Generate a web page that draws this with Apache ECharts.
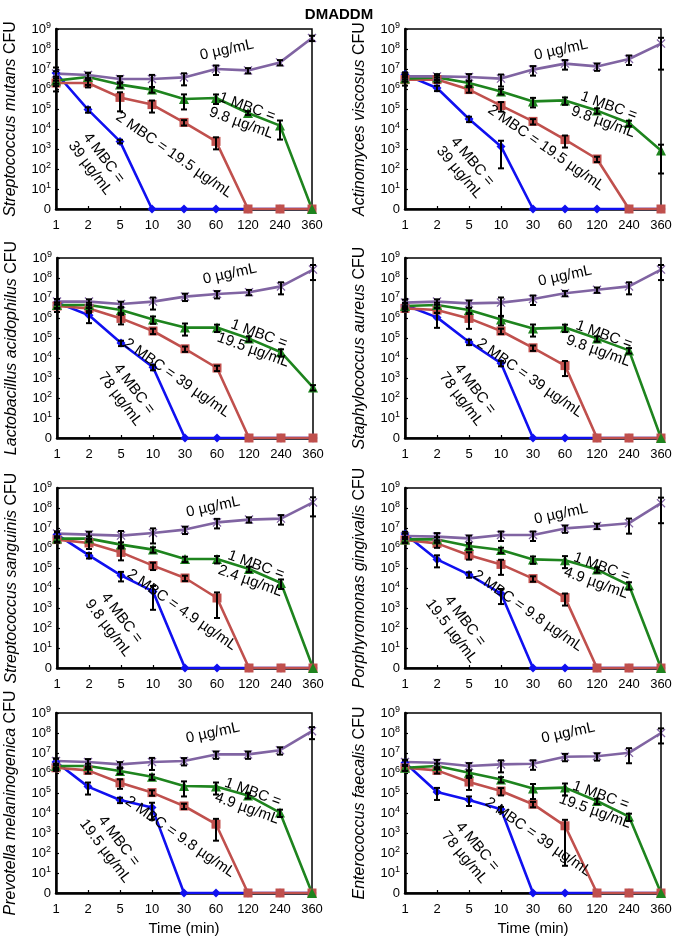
<!DOCTYPE html>
<html>
<head>
<meta charset="utf-8">
<script src="https://cdn.jsdelivr.net/npm/echarts@6/dist/echarts.min.js"></script>
<style>
  html, body { margin: 0; padding: 0; background: #fff; }
  #chart { width: 678px; height: 945px; }
</style>
</head>
<body>
<div id="chart"></div>
<script>
// time points (min), shown as evenly spaced categories
const times = ['1', '2', '5', '10', '30', '60', '120', '240', '360'];

// log10 CFU (0 = no survivors); order: 0, 1, 2, 4 MBC
const sm0 = [6.77, 6.7, 6.5, 6.5, 6.58, 7.0, 6.93, 7.33, 8.55];
const sm1 = [6.42, 6.6, 6.22, 5.97, 5.5, 5.55, 4.8, 4.17, 0];
const sm2 = [6.3, 6.3, 5.58, 5.22, 4.33, 3.38, 0, 0, 0];
const sm4 = [6.8, 4.97, 3.38, 0, 0, 0, 0, 0, 0];

const av0 = [6.63, 6.63, 6.6, 6.52, 6.97, 7.27, 7.13, 7.5, 8.27];
const av1 = [6.52, 6.58, 6.3, 5.88, 5.38, 5.43, 4.92, 4.3, 2.93];
const av2 = [6.47, 6.47, 5.97, 5.17, 4.38, 3.47, 2.5, 0, 0];
const av4 = [6.72, 6.05, 4.5, 3.13, 0, 0, 0, 0, 0];

const la0 = [6.82, 6.82, 6.7, 6.82, 7.07, 7.2, 7.29, 7.58, 8.42];
const la1 = [6.65, 6.65, 6.4, 5.93, 5.52, 5.52, 4.97, 4.29, 2.53];
const la2 = [6.6, 6.48, 5.98, 5.35, 4.46, 3.5, 0, 0, 0];
const la4 = [6.77, 6.14, 4.75, 3.54, 0, 0, 0, 0, 0];

const sa0 = [6.77, 6.82, 6.73, 6.77, 6.95, 7.24, 7.41, 7.58, 8.42];
const sa1 = [6.6, 6.65, 6.4, 5.93, 5.47, 5.52, 4.97, 4.38, 0];
const sa2 = [6.48, 6.4, 5.98, 5.35, 4.51, 3.62, 0, 0, 0];
const sa4 = [6.65, 6.03, 4.8, 3.74, 0, 0, 0, 0, 0];

const ss0 = [6.72, 6.67, 6.62, 6.75, 6.92, 7.28, 7.42, 7.47, 8.28];
const ss1 = [6.47, 6.47, 6.17, 5.92, 5.45, 5.45, 4.95, 4.25, 0];
const ss2 = [6.42, 6.25, 5.78, 5.12, 4.5, 3.5, 0, 0, 0];
const ss4 = [6.67, 5.63, 4.63, 3.83, 0, 0, 0, 0, 0];

const pg0 = [6.6, 6.57, 6.48, 6.65, 6.65, 6.98, 7.1, 7.24, 8.24];
const pg1 = [6.43, 6.43, 6.1, 5.9, 5.43, 5.39, 4.92, 4.14, 0];
const pg2 = [6.4, 6.23, 5.64, 5.18, 4.47, 3.52, 0, 0, 0];
const pg4 = [6.7, 5.43, 4.67, 3.72, 0, 0, 0, 0, 0];

const pm0 = [6.6, 6.55, 6.43, 6.55, 6.6, 6.93, 6.93, 7.14, 8.09];
const pm1 = [6.35, 6.35, 6.1, 5.81, 5.35, 5.32, 4.88, 4.02, 0];
const pm2 = [6.26, 6.13, 5.51, 5.02, 4.35, 3.44, 0, 0, 0];
const pm4 = [6.55, 5.32, 4.65, 4.27, 0, 0, 0, 0, 0];

const ef0 = [6.55, 6.51, 6.35, 6.43, 6.46, 6.81, 6.84, 7.01, 8.0];
const ef1 = [6.26, 6.35, 6.01, 5.68, 5.22, 5.27, 4.6, 3.82, 0];
const ef2 = [6.26, 6.13, 5.55, 5.1, 4.44, 3.36, 0, 0, 0];
const ef4 = [6.51, 5.05, 4.65, 4.19, 0, 0, 0, 0, 0];

// error bars as SD / mean (0 = none visible)
const sm0e = [0.3, 0.3, 0.4, 0.6, 0.6, 0.5, 0.3, 0.3, 0.3];
const sm1e = [0.3, 0.6, 0.3, 0.3, 0.7, 0.5, 0.2, 0.8, 0];
const sm2e = [0.3, 0.4, 0.8, 0.6, 0.3, 0.6, 0, 0, 0];
const sm4e = [0.88, 0.3, 0.2, 0, 0, 0, 0, 0, 0];

const av0e = [0.3, 0.3, 0.4, 0.6, 0.5, 0.5, 0.4, 0.5, 0.95];
const av1e = [0.3, 0.3, 0.3, 0.3, 0.5, 0.4, 0.3, 0.3, 0.93];
const av2e = [0.5, 0.3, 0.3, 0.5, 0.3, 0.6, 0.3, 0, 0];
const av4e = [0.3, 0.3, 0.3, 0.92, 0, 0, 0, 0, 0];

const la0e = [0.3, 0.3, 0.3, 0.6, 0.4, 0.4, 0.3, 0.6, 0.7];
const la1e = [0.3, 0.3, 0.3, 0.4, 0.6, 0.4, 0.3, 0.4, 0.3];
const la2e = [0.5, 0.4, 0.5, 0.3, 0.3, 0.3, 0, 0, 0];
const la4e = [0.5, 0.6, 0.3, 0.3, 0, 0, 0, 0, 0];

const sa0e = [0.4, 0.3, 0.4, 0.8, 0.5, 0.3, 0.3, 0.6, 0.7];
const sa1e = [0.3, 0.3, 0.3, 0.5, 0.6, 0.4, 0.3, 0.3, 0];
const sa2e = [0.3, 0.3, 0.7, 0.3, 0.3, 0.7, 0, 0, 0];
const sa4e = [0.3, 0.7, 0.3, 0.3, 0, 0, 0, 0, 0];

const ss0e = [0.3, 0.4, 0.7, 0.7, 0.4, 0.5, 0.3, 0.5, 0.8];
const ss1e = [0.3, 0.3, 0.3, 0.3, 0.3, 0.4, 0.3, 0.5, 0];
const ss2e = [0.3, 0.5, 0.6, 0.4, 0.3, 0.9, 0, 0, 0];
const ss4e = [0.3, 0.3, 0.5, 0.88, 0, 0, 0, 0, 0];

const pg0e = [0.3, 0.5, 0.4, 0.5, 0.5, 0.4, 0.3, 0.7, 0.9];
const pg1e = [0.3, 0.3, 0.3, 0.3, 0.4, 0.6, 0.3, 0.4, 0];
const pg2e = [0.3, 0.4, 0.4, 0.7, 0.3, 0.6, 0, 0, 0];
const pg4e = [0.3, 0.6, 0.3, 0.7, 0, 0, 0, 0, 0];

const pm0e = [0.3, 0.4, 0.3, 0.6, 0.4, 0.4, 0.4, 0.4, 0.6];
const pm1e = [0.3, 0.3, 0.3, 0.3, 0.7, 0.6, 0.3, 0.4, 0];
const pm2e = [0.3, 0.3, 0.5, 0.3, 0.3, 0.85, 0, 0, 0];
const pm4e = [0.5, 0.6, 0.3, 0.75, 0, 0, 0, 0, 0];

const ef0e = [0.3, 0.4, 0.4, 0.6, 0.5, 0.4, 0.4, 0.7, 0.7];
const ef1e = [0.3, 0.3, 0.3, 0.3, 0.7, 0.6, 0.3, 0.4, 0];
const ef2e = [0.3, 0.3, 0.6, 0.4, 0.3, 0.99, 0, 0, 0];
const ef4e = [0.3, 0.6, 0.5, 0.3, 0, 0, 0, 0, 0];

const species = [
  'Streptococcus mutans', 'Actinomyces viscosus',
  'Lactobacillus acidophilus', 'Staphylococcus aureus',
  'Streptococcus sanguinis', 'Porphyromonas gingivalis',
  'Prevotella melaninogenica', 'Enterococcus faecalis'
];
const means = [
  [sm0, sm1, sm2, sm4], [av0, av1, av2, av4], [la0, la1, la2, la4], [sa0, sa1, sa2, sa4],
  [ss0, ss1, ss2, ss4], [pg0, pg1, pg2, pg4], [pm0, pm1, pm2, pm4], [ef0, ef1, ef2, ef4]
];
const errs = [
  [sm0e, sm1e, sm2e, sm4e], [av0e, av1e, av2e, av4e], [la0e, la1e, la2e, la4e], [sa0e, sa1e, sa2e, sa4e],
  [ss0e, ss1e, ss2e, ss4e], [pg0e, pg1e, pg2e, pg4e], [pm0e, pm1e, pm2e, pm4e], [ef0e, ef1e, ef2e, ef4e]
];
const doseText = [
  ['0 µg/mL', '1 MBC =\n9.8 µg/mL', '2 MBC = 19.5 µg/mL', '4 MBC =\n39 µg/mL'],
  ['0 µg/mL', '1 MBC =\n9.8 µg/mL', '2 MBC = 19.5 µg/mL', '4 MBC =\n39 µg/mL'],
  ['0 µg/mL', '1 MBC =\n19.5 µg/mL', '2 MBC = 39 µg/mL', '4 MBC =\n78 µg/mL'],
  ['0 µg/mL', '1 MBC =\n9.8 µg/mL', '2 MBC = 39 µg/mL', '4 MBC =\n78 µg/mL'],
  ['0 µg/mL', '1 MBC =\n2.4 µg/mL', '2 MBC = 4.9 µg/mL', '4 MBC =\n9.8 µg/mL'],
  ['0 µg/mL', '1 MBC =\n4.9 µg/mL', '2 MBC = 9.8 µg/mL', '4 MBC =\n19.5 µg/mL'],
  ['0 µg/mL', '1 MBC =\n4.9 µg/mL', '2 MBC = 9.8 µg/mL', '4 MBC =\n19.5 µg/mL'],
  ['0 µg/mL', '1 MBC =\n19.5 µg/mL', '2 MBC = 39 µg/mL', '4 MBC =\n78 µg/mL']
];

// layout: grid corner [left, top] and label anchors [x index, log y, rotation]
const gridPos = [[56, 29], [405, 29], [57, 258], [405, 258], [57, 488], [405, 488], [56, 713], [405, 713]];
const textPos = [
  [[5.34, 7.95, 12], [5.88, 4.7, -20], [3.69, 2.7, -35], [1.28, 2.3, -53]],
  [[4.88, 7.95, 12], [6.28, 4.75, -20], [4.41, 3.05, -35], [1.9, 2.1, -50]],
  [[5.4, 8.2, 12], [6.22, 4.8, -20], [3.75, 3.0, -35], [2.19, 2.2, -53]],
  [[5.0, 8.1, 12], [6.13, 4.75, -20], [3.9, 3.0, -35], [1.97, 2.2, -53]],
  [[4.88, 8.05, 12], [6.13, 4.75, -20], [3.9, 2.9, -35], [1.81, 2.25, -53]],
  [[4.88, 7.7, 12], [6.06, 4.65, -20], [3.84, 2.85, -35], [1.66, 2.1, -53]],
  [[4.9, 8.0, 12], [6.06, 4.63, -20], [3.88, 2.8, -35], [1.75, 2.35, -53]],
  [[5.1, 8.0, 12], [6.03, 4.48, -20], [4.16, 2.8, -35], [2.06, 2.05, -50]]
];

const FONT = '"Liberation Sans", Arial, sans-serif';
const colors = ['#8064A2', '#1E841E', '#C0504D', '#1010F0'];
const symbols = [
  'path://M0,1L1,0L5,4L9,0L10,1L6,5L10,9L9,10L5,6L1,10L0,9L4,5Z',
  'triangle', 'rect', 'diamond'
];
const symSizes = [9, 10, 9, 9];

function renderErr(params, api) {
  const cv = api.value(2);
  if (!cv) return;
  const x = api.value(0), y = api.value(1);
  const hi = api.coord([x, y + Math.log10(1 + cv)]);
  const lo = api.coord([x, Math.max(0, y + Math.log10(1 - cv))]);
  const w = 3;
  const style = { stroke: '#000', lineWidth: 2 };
  return {
    type: 'group',
    children: [
      { type: 'line', shape: { x1: hi[0], y1: hi[1], x2: lo[0], y2: lo[1] }, style: style },
      { type: 'line', shape: { x1: hi[0] - w, y1: hi[1], x2: hi[0] + w, y2: hi[1] }, style: style },
      { type: 'line', shape: { x1: lo[0] - w, y1: lo[1], x2: lo[0] + w, y2: lo[1] }, style: style }
    ]
  };
}

const grid = [], xAxis = [], yAxis = [], series = [];

species.forEach(function (name, i) {
  grid.push({
    left: gridPos[i][0], top: gridPos[i][1], width: 256, height: 180,
    show: true, borderColor: '#000', borderWidth: 1.5,
    outerBoundsMode: 'none'
  });
  const bottomRow = i >= 6;
  xAxis.push({
    gridIndex: i, type: 'value', min: 0, max: 8, interval: 1,
    name: bottomRow ? 'Time (min)' : '', nameLocation: 'middle', nameGap: 28,
    nameTextStyle: { fontSize: 15, color: '#000', fontFamily: FONT },
    axisLine: { lineStyle: { color: '#000', width: 2.5 } },
    axisTick: { inside: true, length: 3, lineStyle: { color: '#000', width: 1.2 } },
    axisLabel: {
      fontSize: 13, color: '#000', fontFamily: FONT, margin: 10,
      formatter: function (v) { return times[v] || ''; }
    },
    splitLine: { show: false }
  });
  yAxis.push({
    gridIndex: i, type: 'value', min: 0, max: 9, interval: 1,
    name: '{i|' + name + '} CFU', nameLocation: 'middle', nameRotate: 90, nameGap: 37,
    nameTextStyle: {
      fontSize: 16, color: '#000', fontFamily: FONT,
      rich: { i: { fontSize: 16, fontStyle: 'italic', color: '#000', fontFamily: FONT } }
    },
    axisLine: { show: true, lineStyle: { color: '#000', width: 2.5 } },
    axisTick: { inside: true, length: 3, lineStyle: { color: '#000', width: 1.2 } },
    axisLabel: {
      fontSize: 13, color: '#000', fontFamily: FONT, margin: 5, lineHeight: 16,
      formatter: function (v) { return v === 0 ? '0' : '10{s|' + v + '}'; },
      rich: { s: { fontSize: 9, lineHeight: 16, verticalAlign: 'top', color: '#000', fontFamily: FONT } }
    },
    splitLine: { show: false }
  });

  // draw order: 4 MBC, 2 MBC, 1 MBC, 0 µg/mL
  [3, 2, 1, 0].forEach(function (k) {
    series.push({
      type: 'line', xAxisIndex: i, yAxisIndex: i,
      data: means[i][k].map(function (v, j) { return [j, v]; }),
      symbol: symbols[k], symbolSize: symSizes[k],
      itemStyle: { color: colors[k], opacity: 1 },
      lineStyle: { color: colors[k], width: 2.6 },
      z: 2, silent: true
    });
  });

  const errData = [];
  [0, 1, 2, 3].forEach(function (k) {
    means[i][k].forEach(function (v, j) { errData.push([j, v, errs[i][k][j]]); });
  });
  series.push({
    type: 'custom', xAxisIndex: i, yAxisIndex: i, renderItem: renderErr,
    data: errData, z: 4, silent: true
  });

  series.push({
    type: 'scatter', xAxisIndex: i, yAxisIndex: i, symbolSize: 0, z: 5, silent: true,
    itemStyle: { opacity: 1, color: '#000' },
    data: textPos[i].map(function (p, k) {
      return { value: [p[0], p[1]], name: doseText[i][k], label: { rotate: p[2] } };
    }),
    label: {
      show: true, position: 'inside', formatter: '{b}', opacity: 1,
      fontSize: 15, lineHeight: 17, color: '#000', fontFamily: FONT,
      textBorderWidth: 0, textShadowBlur: 0
    }
  });
});

const chart = echarts.init(document.getElementById('chart'));
chart.setOption({
  animation: false,
  backgroundColor: '#fff',
  title: {
    text: 'DMADDM', left: 'center', top: 2,
    textStyle: { fontSize: 15, fontWeight: 'bold', color: '#000', fontFamily: FONT }
  },
  grid: grid,
  xAxis: xAxis,
  yAxis: yAxis,
  series: series
});
</script>
</body>
</html>
